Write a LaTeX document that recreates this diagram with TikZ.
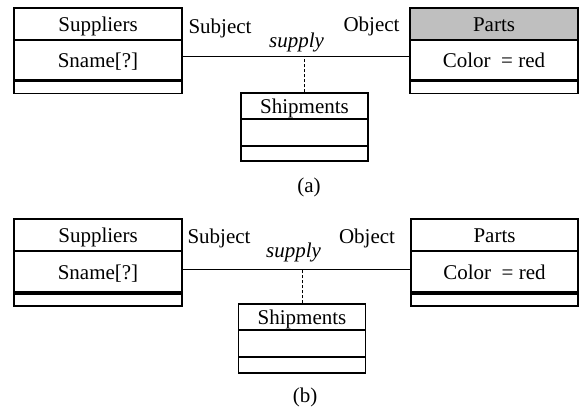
\documentclass[tikz,border=0pt]{standalone}
\usepackage{fontspec}
\setmainfont{Liberation Serif}
\begin{document}
\begin{tikzpicture}[x=1pt,y=-1pt,
  font=\fontsize{21}{25}\selectfont,
  comp/.style={draw, line width=1.1pt, inner sep=0pt, text height=14pt, text depth=0pt},
  wide/.style={minimum width=168},
  narrow/.style={minimum width=127},
  shaded/.style={fill=gray!50},
  assoc/.style={line width=1pt},
  link/.style={line width=1pt, dashed, dash pattern=on 3pt off 2pt},
  role/.style={anchor=base, inner sep=0pt},
  caption/.style={anchor=base, inner sep=0pt}]
\useasboundingbox (0,0) rectangle (580,408);

% ---------- (a) ----------
\node[comp, wide, minimum height=32] (supA-h) at (98,24) {Suppliers};
\node[comp, wide, minimum height=41] (supA-a) at (98,60.5) {Sname[?]};
\node[comp, wide, minimum height=11] (supA-o) at (98,86.5) {};

\node[comp, wide, shaded, minimum height=32] (partA-h) at (494,24) {Parts};
\node[comp, wide, minimum height=41] (partA-a) at (494,60.5) {Color~~= red};
\node[comp, wide, minimum height=11] (partA-o) at (494,86.5) {};

\node[comp, narrow, minimum height=26] (shipA-h) at (304.5,106) {Shipments};
\node[comp, narrow, minimum height=27] (shipA-a) at (304.5,132.5) {};
\node[comp, narrow, minimum height=15] (shipA-o) at (304.5,153.5) {};

\coordinate (lineA) at ([yshift=4.5pt]supA-a.east);
\draw[assoc] (lineA) -- ([yshift=4.5pt]partA-a.west);
\draw[link] (shipA-h.north) -- (shipA-h.north |- lineA);

\node[role] (subjA) at (220,33) {Subject};
\node[role] (objA) at (371.5,31) {Object};
\node[role] (relA) at (296.5,47) {\itshape supply};
\node[caption] (capA) at (309,192) {(a)};

% ---------- (b) ----------
\node[comp, wide, minimum height=32] (supB-h) at (98,235) {Suppliers};
\node[comp, wide, minimum height=43] (supB-a) at (98,272.5) {Sname[?]};
\node[comp, wide, minimum height=10] (supB-o) at (98,299) {};

\node[comp, minimum width=167, minimum height=32] (partB-h) at (494.5,235) {Parts};
\node[comp, minimum width=167, minimum height=43] (partB-a) at (494.5,272.5) {Color~~= red};
\node[comp, minimum width=167, minimum height=10] (partB-o) at (494.5,299) {};

\node[comp, narrow, minimum height=26] (shipB-h) at (302,317) {Shipments};
\node[comp, narrow, minimum height=27] (shipB-a) at (302,343.5) {};
\node[comp, narrow, minimum height=16] (shipB-o) at (302,365) {};

\coordinate (lineB) at ([yshift=3.2pt]supB-a.east);
\draw[assoc] (lineB) -- ([yshift=3.2pt]partB-a.west);
\draw[link] (shipB-h.north) -- (shipB-h.north |- lineB);

\node[role] (subjB) at (219,243) {Subject};
\node[role] (objB) at (367,243) {Object};
\node[role] (relB) at (293.5,257) {\itshape supply};
\node[caption] (capB) at (305,402) {(b)};
\end{tikzpicture}
\end{document}
